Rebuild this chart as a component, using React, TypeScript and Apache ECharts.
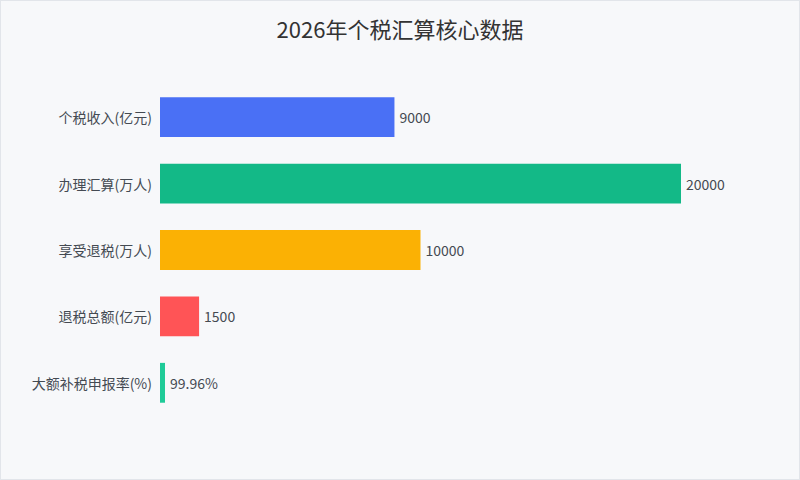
import React, { useEffect, useRef } from "react";
import * as echarts from "echarts";

const titleText = "2026年个税汇算核心数据";
const categories = ["个税收入(亿元)", "办理汇算(万人)", "享受退税(万人)", "退税总额(亿元)", "大额补税申报率(%)"];
const values = [9000, 20000, 10000, 1500, 99.96];
const labelTexts = ["9000", "20000", "10000", "1500", "99.96%"];
const barColors = ["#4a70f5", "#13b987", "#fbb104", "#ff5456", "#1fcb98"];

export default function App() {
  const ref = useRef<HTMLDivElement>(null);
  useEffect(() => {
    if (!ref.current) return;
    const chart = echarts.init(ref.current, undefined, { renderer: "svg" });
    const font = "'Noto Sans CJK SC', 'Noto Sans', sans-serif";
    chart.setOption({
      animation: false,
      backgroundColor: "#f7f8fa",
      textStyle: { fontFamily: font },
      title: {
        text: titleText,
        left: "center",
        top: 11,
        textStyle: { fontSize: 22, fontWeight: "normal", color: "#333333", fontFamily: font },
      },
      grid: { left: 159, right: 118, top: 83, bottom: 63 },
      xAxis: {
        type: "value",
        min: 0,
        max: 20000,
        show: false,
      },
      yAxis: {
        type: "category",
        inverse: true,
        data: categories,
        axisLine: { show: false },
        axisTick: { show: false },
        splitLine: { show: false },
        axisLabel: { color: "#444a52", fontSize: 14, margin: 8, fontFamily: font },
      },
      series: [
        {
          type: "bar",
          barCategoryGap: "40%",
          barMinHeight: 5,
          data: values.map((v, i) => ({
            value: v,
            itemStyle: { color: barColors[i] },
            label: { formatter: labelTexts[i] },
          })),
          label: {
            show: true,
            position: "right",
            distance: 5,
            color: "#454a52",
            fontSize: 14,
            fontFamily: font,
          },
        },
      ],
    });
    return () => chart.dispose();
  }, []);
  return (
    <div
      style={{
        position: "absolute",
        left: 0,
        top: 0,
        width: 800,
        height: 480,
        boxSizing: "border-box",
        border: "1px solid #e2e5ea",
        background: "#f7f8fa",
      }}
    >
      <div ref={ref} style={{ width: 798, height: 478 }} />
    </div>
  );
}
